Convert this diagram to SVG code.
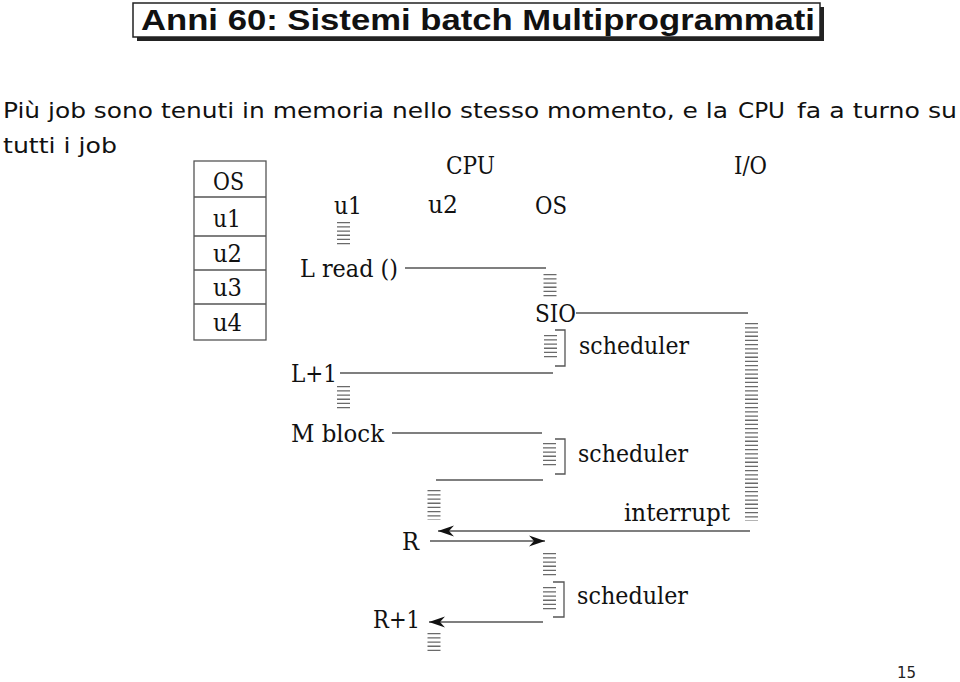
<svg xmlns="http://www.w3.org/2000/svg" width="960" height="682" viewBox="0 0 960 682">
<defs>
<style>
.t{font-family:"DejaVu Serif","Liberation Serif",serif;font-size:25px;fill:#111}
.s{font-family:"DejaVu Sans","Liberation Sans",sans-serif;font-size:21px;fill:#111}
.ln{stroke:#555;stroke-width:1.3;fill:none}
.st{stroke:#6a6a6a;stroke-width:13;stroke-dasharray:1.3 2.9;fill:none}
.br{stroke:#555;stroke-width:1.3;fill:none}
</style>
<marker id="ah" viewBox="-17 -7 18 14" refX="0" refY="0" markerWidth="18" markerHeight="14" markerUnits="userSpaceOnUse" orient="auto">
<path d="M0,0 L-16,-5.5 L-11,0 L-16,5.5 Z" fill="#111"/>
</marker>
</defs>
<rect width="960" height="682" fill="#fff"/>

<g id="title">
<rect x="137" y="7" width="687" height="34" fill="#222"/>
<rect x="133" y="3" width="687" height="34" fill="#fff" stroke="#222" stroke-width="1.5"/>
<text x="141" y="29.5" font-family="'Liberation Sans',Arial,sans-serif" font-weight="bold" font-size="30" textLength="674" lengthAdjust="spacingAndGlyphs" fill="#111">Anni 60: Sistemi batch Multiprogrammati</text>
</g>

<g id="intro">
<text class="s" x="3" y="118" textLength="725" lengthAdjust="spacingAndGlyphs">Più job sono tenuti in memoria nello stesso momento, e la</text>
<text class="s" x="738" y="118" font-size="17" textLength="47" lengthAdjust="spacingAndGlyphs">CPU</text>
<text class="s" x="797" y="118" textLength="160" lengthAdjust="spacingAndGlyphs">fa a turno su</text>
<text class="s" x="3" y="153" textLength="114" lengthAdjust="spacingAndGlyphs">tutti i job</text>
</g>

<g id="memory">
<rect x="194" y="161" width="72" height="179" fill="none" stroke="#555" stroke-width="1.3"/>
<path class="ln" d="M194,197 H266 M194,236 H266 M194,270 H266 M194,304 H266"/>
<g class="t">
<text x="213" y="190" textLength="31" lengthAdjust="spacingAndGlyphs">OS</text>
<text x="213" y="227" textLength="28" lengthAdjust="spacingAndGlyphs">u1</text>
<text x="213" y="262" textLength="29" lengthAdjust="spacingAndGlyphs">u2</text>
<text x="213" y="296" textLength="29" lengthAdjust="spacingAndGlyphs">u3</text>
<text x="213" y="331" textLength="29" lengthAdjust="spacingAndGlyphs">u4</text>
</g>
</g>

<g id="headers">
<text class="t" x="446" y="174" textLength="49" lengthAdjust="spacingAndGlyphs">CPU</text>
<text class="t" x="734" y="174" textLength="33" lengthAdjust="spacingAndGlyphs">I/O</text>
<text class="t" x="334" y="214" textLength="28" lengthAdjust="spacingAndGlyphs">u1</text>
<text class="t" x="428" y="213" textLength="30" lengthAdjust="spacingAndGlyphs">u2</text>
<text class="t" x="535" y="214" textLength="32" lengthAdjust="spacingAndGlyphs">OS</text>
</g>

<g id="labels">
<text class="t" x="300" y="277" textLength="98" lengthAdjust="spacingAndGlyphs">L read ()</text>
<text class="t" x="535" y="322" textLength="41" lengthAdjust="spacingAndGlyphs">SIO</text>
<text class="t" x="579" y="354" textLength="110" lengthAdjust="spacingAndGlyphs">scheduler</text>
<text class="t" x="291" y="382" textLength="46" lengthAdjust="spacingAndGlyphs">L+1</text>
<text class="t" x="291" y="442" textLength="93" lengthAdjust="spacingAndGlyphs">M block</text>
<text class="t" x="578" y="462" textLength="110" lengthAdjust="spacingAndGlyphs">scheduler</text>
<text class="t" x="624" y="521" textLength="106" lengthAdjust="spacingAndGlyphs">interrupt</text>
<text class="t" x="402" y="550" textLength="17" lengthAdjust="spacingAndGlyphs">R</text>
<text class="t" x="577" y="604" textLength="111" lengthAdjust="spacingAndGlyphs">scheduler</text>
<text class="t" x="373" y="628" textLength="47" lengthAdjust="spacingAndGlyphs">R+1</text>
</g>

<g id="stacks">
<line class="st" x1="343.5" y1="222" x2="343.5" y2="247"/>
<line class="st" x1="550" y1="274" x2="550" y2="299"/>
<line class="st" x1="550.5" y1="335" x2="550.5" y2="360"/>
<line class="st" x1="343.5" y1="386" x2="343.5" y2="411"/>
<line class="st" x1="549.5" y1="443" x2="549.5" y2="468"/>
<line class="st" x1="434" y1="490" x2="434" y2="520"/>
<line class="st" x1="751.5" y1="323" x2="751.5" y2="521"/>
<line class="st" x1="549.5" y1="553" x2="549.5" y2="578"/>
<line class="st" x1="549.5" y1="587" x2="549.5" y2="611"/>
<line class="st" x1="434" y1="633" x2="434" y2="651"/>
</g>

<g id="brackets">
<path class="br" d="M555,330 H565 V366 H555"/>
<path class="br" d="M555,439 H565 V474 H555"/>
<path class="br" d="M553,582 H564 V617 H553"/>
</g>

<g id="connectors">
<line class="ln" x1="405" y1="268" x2="546" y2="268"/>
<line class="ln" x1="576" y1="313" x2="748" y2="313"/>
<line class="ln" x1="340" y1="373" x2="553" y2="373"/>
<line class="ln" x1="392" y1="433" x2="542" y2="433"/>
<line class="ln" x1="436" y1="480" x2="543" y2="480"/>
<line class="ln" x1="750" y1="531" x2="438" y2="531" marker-end="url(#ah)"/>
<line class="ln" x1="430" y1="541" x2="545" y2="541" marker-end="url(#ah)"/>
<line class="ln" x1="543" y1="622" x2="429" y2="622" marker-end="url(#ah)"/>
</g>

<g id="page">
<text x="897" y="678" font-family="'DejaVu Sans','Liberation Sans',sans-serif" font-size="15" fill="#222">15</text>
</g>
</svg>
